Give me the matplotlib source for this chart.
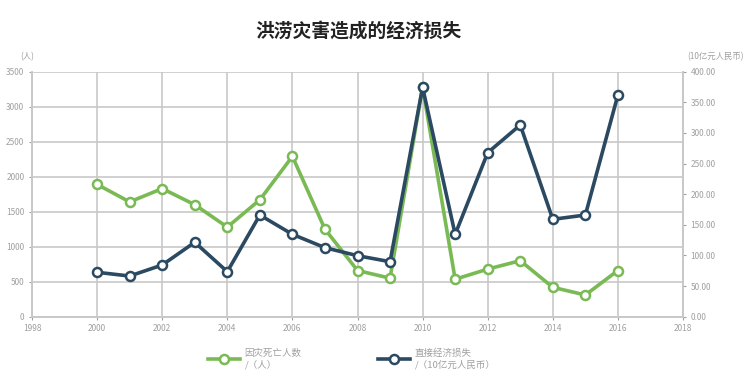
import matplotlib.pyplot as plt
from matplotlib.lines import Line2D

plt.rcParams['font.family'] = ['Noto Sans CJK SC', 'DejaVu Sans']

# === Data ===
years = [2000, 2001, 2002, 2003, 2004, 2005, 2006, 2007, 2008,
         2009, 2010, 2011, 2012, 2013, 2014, 2015, 2016]
deaths = [1890, 1640, 1830, 1600, 1280, 1670, 2290, 1250, 660,
          550, 3280, 535, 680, 800, 420, 310, 660]
losses = [72.5, 66.4, 84.4, 121.5, 73.5, 166.0, 134.5, 112.7, 99.6,
          89.8, 374.5, 134.5, 267.8, 313.0, 159.0, 166.0, 362.0]
left_ticks = list(range(0, 3501, 500))
right_ticks = list(range(0, 401, 50))
year_ticks = list(range(1998, 2019, 2))

GREEN = '#7aba55'
BLUE = '#2b4a62'
GRID = '#c8c8c8'
TICK = '#a0a0a0'

fig = plt.figure(figsize=(7.49, 3.91), dpi=100)
ax = fig.add_axes([32 / 749, 1 - 316.7 / 391, (683 - 32) / 749, 245 / 391])
ax2 = ax.twinx()

ax.set_xlim(1998, 2018)
ax.set_ylim(0, 3500)
ax2.set_ylim(0, 400)
ax.set_xticks(year_ticks)
ax.set_yticks(left_ticks)
ax2.set_yticks(right_ticks)
ax2.set_yticklabels([f'{v:.2f}' for v in right_ticks])

ax.grid(True, color=GRID, lw=1.2)
ax.set_axisbelow(True)
for a in (ax, ax2):
    for s in a.spines.values():
        s.set_color(GRID)
        s.set_linewidth(1.2)
    a.tick_params(colors=TICK, labelsize=6, length=2, width=0.8)
ax.spines['top'].set_visible(False)
ax2.spines['top'].set_visible(False)

mk = dict(marker='o', markersize=6.5, markerfacecolor='white', markeredgewidth=1.8)
ax.plot(years, deaths, color=GREEN, lw=2.6, markeredgecolor=GREEN, zorder=3, **mk)
ax2.plot(years, losses, color=BLUE, lw=2.6, markeredgecolor=BLUE, zorder=4, **mk)

fig.text(358 / 749, 1 - 31 / 391, '洪涝灾害造成的经济损失', ha='center', va='center',
         fontsize=13.5, fontweight='bold', color='#222222')
fig.text(27 / 749, 1 - 57 / 391, '(人)', ha='center', va='center', fontsize=6, color=TICK)
fig.text(715 / 749, 1 - 57 / 391, '(10亿元人民币)', ha='center', va='center', fontsize=6, color=TICK)

# legend, one box per series
entries = [(GREEN, '因灾死亡人数\n/（人）', 203),
           (BLUE, '直接经济损失\n/（10亿元人民币）', 373)]
for color, label, x0 in entries:
    h = Line2D([], [], color=color, lw=2.6, markeredgecolor=color, **mk)
    leg = fig.legend([h], [label], loc='center left',
                     bbox_to_anchor=(x0 / 749, 1 - 359 / 391), frameon=False,
                     fontsize=6.8, handlelength=3.4, handletextpad=0.5,
                     borderpad=0, labelcolor=TICK)

fig.savefig('out.png', dpi=100)
